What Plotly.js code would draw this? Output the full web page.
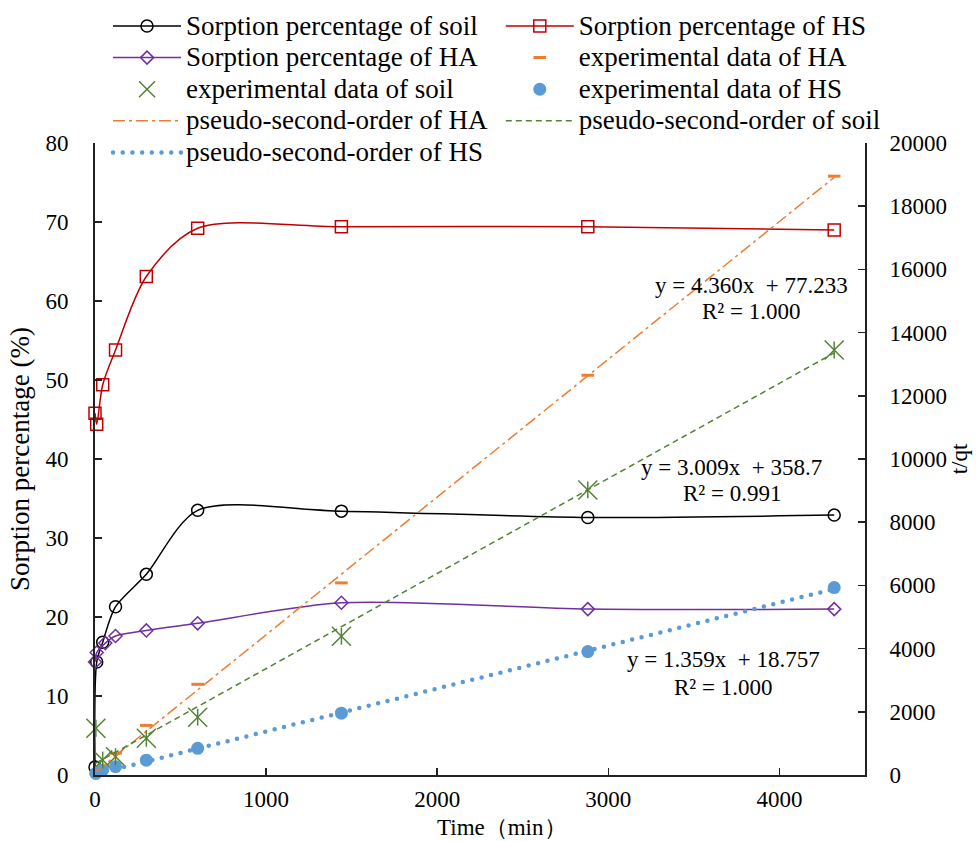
<!DOCTYPE html>
<html>
<head>
<meta charset="utf-8">
<script src="https://cdn.plot.ly/plotly-3.0.1.min.js"></script>
<style>
  html, body { margin: 0; padding: 0; background: #fff; }
  #chart { width: 976px; height: 841px; }
  /* every label of the chart is set in a Times-style serif */
  #chart svg text { font-family: 'Liberation Serif', 'Times New Roman', serif !important; }
  /* round caps turn the zero-length dashes of the HS fit into dots */
  .scatterlayer path.js-line[style*="rgb(91, 155, 213)"],
  .legend path.js-line[style*="rgb(91, 155, 213)"] { stroke-linecap: round; }
</style>
</head>
<body>
<div id="chart"></div>
<script>
// Sorption percentage (%) against time (min)
const timeSoilPct = [0, 10, 45, 120, 300, 600, 1440, 2880, 4320];
const soilPct     = [1.0, 14.3, 16.8, 21.3, 25.4, 33.5, 33.4, 32.6, 32.9];
const timeHSPct   = [0, 10, 45, 120, 300, 600, 1440, 2880, 4320];
const hsPct       = [45.8, 44.4, 49.4, 53.8, 63.1, 69.2, 69.4, 69.4, 69.0];
const timeHAPct   = [0, 10, 60, 120, 300, 600, 1440, 2880, 4320];
const haPct       = [14.3, 15.5, 16.7, 17.6, 18.3, 19.2, 21.8, 21.0, 21.0];

// t/qt experimental data (right axis)
const timeExp   = [5, 45, 120, 300, 600, 1440, 2880, 4320];
const soilTQt   = [1480, 475, 580, 1160, 1830, 4390, 9020, 13450];
const haTQt     = [30, 250, 690, 1570, 2870, 6080, 12650, 18950];
const hsTQt     = [50, 160, 263, 470, 845, 1955, 3905, 5930];

// pseudo-second-order linear fits: HA, soil, HS
const fitNames     = ['HA', 'soil', 'HS'];
const fitSlope     = [4.360, 3.009, 1.359];
const fitIntercept = [77.233, 358.7, 18.757];
const fitR2        = ['1.000', '0.991', '1.000'];

const C = {
  soil: '#000000', hs: '#C00000', ha: '#7030A0',
  orange: '#ED7D31', green: '#548235', blue: '#5B9BD5'
};
const SERIF = 'Liberation Serif, Times New Roman, serif';
const lg = s => '<span style="font-size:27px">' + s + '</span>';

function fitLine(i) {
  const x0 = Math.min(...timeExp), x1 = Math.max(...timeExp);
  return [[x0, x1], [fitSlope[i] * x0 + fitIntercept[i], fitSlope[i] * x1 + fitIntercept[i]]];
}
const fHA = fitLine(0), fSoil = fitLine(1), fHS = fitLine(2);

// left legend column: legend, right legend column: legend2
const traces = [
  { x: timeSoilPct, y: soilPct, name: lg('Sorption percentage of soil'), mode: 'lines+markers', legend: 'legend',
    line: { color: C.soil, width: 1.5, shape: 'spline', smoothing: 0.8 },
    marker: { symbol: 'circle-open', size: 12, color: C.soil, line: { width: 1.5 } } },
  { x: timeHSPct, y: hsPct, name: lg('Sorption percentage of HS'), mode: 'lines+markers', legend: 'legend2',
    line: { color: C.hs, width: 1.5, shape: 'spline', smoothing: 0.85 },
    marker: { symbol: 'square-open', size: 12, color: C.hs, line: { width: 1.5 } } },
  { x: timeHAPct, y: haPct, name: lg('Sorption percentage of HA'), mode: 'lines+markers', legend: 'legend',
    line: { color: C.ha, width: 1.5, shape: 'spline', smoothing: 0.85 },
    marker: { symbol: 'diamond-open', size: 10, color: C.ha, line: { width: 1.5 } } },
  { x: timeExp, y: haTQt, yaxis: 'y2', name: lg('experimental data of HA'), mode: 'markers', legend: 'legend2',
    marker: { symbol: 'line-ew-open', size: 9, color: C.orange, line: { width: 3, color: C.orange } } },
  { x: timeExp, y: soilTQt, yaxis: 'y2', name: lg('experimental data of soil'), mode: 'markers', legend: 'legend',
    marker: { symbol: 'x-thin-open', size: 19, color: C.green, line: { width: 1.5, color: C.green } } },
  { x: timeExp, y: hsTQt, yaxis: 'y2', name: lg('experimental data of HS'), mode: 'markers', legend: 'legend2',
    marker: { symbol: 'circle', size: 13, color: C.blue } },
  { x: fHA[0], y: fHA[1], yaxis: 'y2', name: lg('pseudo-second-order of ' + fitNames[0]), mode: 'lines', legend: 'legend',
    line: { color: C.orange, width: 1.5, dash: '12px,4px,3px,4px' } },
  { x: fSoil[0], y: fSoil[1], yaxis: 'y2', name: lg('pseudo-second-order of ' + fitNames[1]), mode: 'lines', legend: 'legend2',
    line: { color: C.green, width: 1.5, dash: '6px,4px' } },
  { x: fHS[0], y: fHS[1], yaxis: 'y2', name: lg('pseudo-second-order of ' + fitNames[2]), mode: 'lines', legend: 'legend',
    line: { color: C.blue, width: 4.5, dash: '0px,9.7px' } },
  // vertical stroke completing the six-armed soil markers
  { x: timeExp, y: soilTQt, yaxis: 'y2', showlegend: false, mode: 'markers', hoverinfo: 'skip',
    marker: { symbol: 'line-ns-open', size: 12, color: C.green, line: { width: 1.5, color: C.green } } }
];
// markers sitting on the axes are drawn whole
traces.forEach(t => { t.cliponaxis = false; });

const axisBase = {
  ticks: 'inside', ticklen: 7, tickwidth: 1.5, tickcolor: '#222',
  showline: true, linewidth: 2, linecolor: '#222',
  showgrid: false, zeroline: false, tickformat: 'd',
  tickfont: { family: SERIF, size: 23, color: '#000' }
};

// equation labels placed next to each fit line
const eqPos = [
  { x: 0.852, y: 0.774, r: 0.733 },
  { x: 0.827, y: 0.487, r: 0.446 },
  { x: 0.816, y: 0.182, r: 0.139 }
];
const annotations = [];
fitSlope.forEach((s, i) => {
  const b = fitIntercept[i];
  const common = { xref: 'paper', yref: 'paper', xanchor: 'center', yanchor: 'middle', showarrow: false,
    font: { family: SERIF, size: 23, color: '#000' } };
  annotations.push(Object.assign({ x: eqPos[i].x, y: eqPos[i].y, text: 'y = ' + s.toFixed(3) + 'x  + ' + b }, common));
  annotations.push(Object.assign({ x: eqPos[i].x, y: eqPos[i].r, text: 'R² = ' + fitR2[i] }, common));
});
annotations.push({ xref: 'paper', yref: 'paper', x: 0.5286, y: -0.0823, xanchor: 'center', yanchor: 'middle',
  showarrow: false, text: 'Time（min）', font: { family: SERIF, size: 23, color: '#000' } });

const legendBase = {
  orientation: 'v', xanchor: 'left', y: 1.218, yanchor: 'top',
  itemwidth: 68, bgcolor: 'rgba(0,0,0,0)', borderwidth: 0,
  font: { family: SERIF, size: 22, color: '#000' }, traceorder: 'normal'
};

const layout = {
  width: 976, height: 841,
  margin: { l: 95, r: 111, t: 143, b: 66, autoexpand: false },
  paper_bgcolor: '#fff', plot_bgcolor: '#fff',
  font: { family: SERIF, color: '#000' },
  showlegend: true,
  legend: Object.assign({}, legendBase, { x: 0.0169 }),
  legend2: Object.assign({}, legendBase, { x: 0.527 }),
  xaxis: Object.assign({}, axisBase, { range: [0, 4500], tick0: 0, dtick: 1000, ticklabelstandoff: 2 }),
  yaxis: Object.assign({}, axisBase, { range: [0, 80], tick0: 0, dtick: 10, ticklabelstandoff: 20,
    title: { text: 'Sorption percentage (%)', font: { family: SERIF, size: 27, color: '#000' }, standoff: 8 } }),
  yaxis2: Object.assign({}, axisBase, { range: [0, 20000], tick0: 0, dtick: 2000, overlaying: 'y', side: 'right',
    ticklabelstandoff: 18,
    title: { text: 't/qt', font: { family: SERIF, size: 23, color: '#000' }, standoff: 4 } }),
  annotations: annotations
};

Plotly.newPlot('chart', traces, layout, { displayModeBar: false, staticPlot: true });
</script>
</body>
</html>
